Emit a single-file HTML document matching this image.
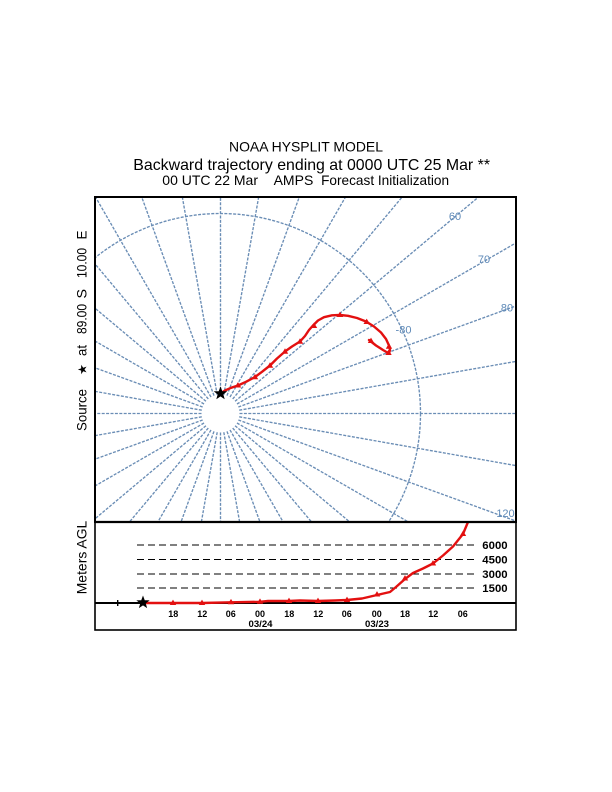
<!DOCTYPE html>
<html>
<head>
<meta charset="utf-8">
<style>
  html,body{margin:0;padding:0;background:#ffffff;width:612px;height:792px;overflow:hidden;}
  svg{display:block;position:absolute;left:0;top:0;}
  text{font-family:"Liberation Sans", Arial, Helvetica, sans-serif;}
</style>
</head>
<body>
<svg width="612" height="792" viewBox="0 0 612 792" xmlns="http://www.w3.org/2000/svg">
  <defs>
    <clipPath id="mapclip"><rect x="95" y="197" width="421" height="325"/></clipPath>
    <clipPath id="vclip"><rect x="95" y="522" width="421" height="108"/></clipPath>
  </defs>
  <rect x="0" y="0" width="612" height="792" fill="#ffffff"/>

  <!-- Titles -->
  <text x="229" y="151.5" font-size="14" textLength="154" lengthAdjust="spacingAndGlyphs" fill="#000">NOAA HYSPLIT MODEL</text>
  <text x="133.3" y="170" font-size="16" textLength="356.7" lengthAdjust="spacingAndGlyphs" fill="#000">Backward trajectory ending at 0000 UTC 25 Mar **</text>
  <text x="162.3" y="185" font-size="14" textLength="95.7" lengthAdjust="spacingAndGlyphs" fill="#000">00 UTC 22 Mar</text>
  <text x="273.6" y="185" font-size="14" textLength="39.7" lengthAdjust="spacingAndGlyphs" fill="#000">AMPS</text>
  <text x="321.1" y="185" font-size="14" textLength="128" lengthAdjust="spacingAndGlyphs" fill="#000">Forecast Initialization</text>

  <!-- Map grid -->
  <g clip-path="url(#mapclip)" stroke="#6a8db5" stroke-width="1.35" stroke-dasharray="3 1.4" fill="none">
    <g transform="translate(220.5,413.5)">
      <line x1="0" y1="-19" x2="0" y2="-217" transform="rotate(0)"/>
      <line x1="0" y1="-19" x2="0" y2="-220.5" transform="rotate(10)"/>
      <line x1="0" y1="-19" x2="0" y2="-231" transform="rotate(20)"/>
      <line x1="0" y1="-19" x2="0" y2="-250.5" transform="rotate(30)"/>
      <line x1="0" y1="-19" x2="0" y2="-283" transform="rotate(40)"/>
      <line x1="0" y1="-19" x2="0" y2="-337" transform="rotate(50)"/>
      <line x1="0" y1="-19" x2="0" y2="-341.5" transform="rotate(60)"/>
      <line x1="0" y1="-19" x2="0" y2="-315" transform="rotate(70)"/>
      <line x1="0" y1="-19" x2="0" y2="-300.5" transform="rotate(80)"/>
      <line x1="0" y1="-19" x2="0" y2="-296" transform="rotate(90)"/>
      <line x1="0" y1="-19" x2="0" y2="-300.5" transform="rotate(100)"/>
      <line x1="0" y1="-19" x2="0" y2="-315" transform="rotate(110)"/>
      <line x1="0" y1="-19" x2="0" y2="-217.5" transform="rotate(120)"/>
      <line x1="0" y1="-19" x2="0" y2="-169" transform="rotate(130)"/>
      <line x1="0" y1="-19" x2="0" y2="-142" transform="rotate(140)"/>
      <line x1="0" y1="-19" x2="0" y2="-125.5" transform="rotate(150)"/>
      <line x1="0" y1="-19" x2="0" y2="-115.8" transform="rotate(160)"/>
      <line x1="0" y1="-19" x2="0" y2="-110.4" transform="rotate(170)"/>
      <line x1="0" y1="-19" x2="0" y2="-108.7" transform="rotate(180)"/>
      <line x1="0" y1="-19" x2="0" y2="-110.4" transform="rotate(190)"/>
      <line x1="0" y1="-19" x2="0" y2="-115.8" transform="rotate(200)"/>
      <line x1="0" y1="-19" x2="0" y2="-125.5" transform="rotate(210)"/>
      <line x1="0" y1="-19" x2="0" y2="-142" transform="rotate(220)"/>
      <line x1="0" y1="-19" x2="0" y2="-164" transform="rotate(230)"/>
      <line x1="0" y1="-19" x2="0" y2="-145" transform="rotate(240)"/>
      <line x1="0" y1="-19" x2="0" y2="-133.8" transform="rotate(250)"/>
      <line x1="0" y1="-19" x2="0" y2="-127.6" transform="rotate(260)"/>
      <line x1="0" y1="-19" x2="0" y2="-125.7" transform="rotate(270)"/>
      <line x1="0" y1="-19" x2="0" y2="-127.6" transform="rotate(280)"/>
      <line x1="0" y1="-19" x2="0" y2="-133.8" transform="rotate(290)"/>
      <line x1="0" y1="-19" x2="0" y2="-145" transform="rotate(300)"/>
      <line x1="0" y1="-19" x2="0" y2="-164" transform="rotate(310)"/>
      <line x1="0" y1="-19" x2="0" y2="-195.5" transform="rotate(320)"/>
      <line x1="0" y1="-19" x2="0" y2="-250.5" transform="rotate(330)"/>
      <line x1="0" y1="-19" x2="0" y2="-231" transform="rotate(340)"/>
      <line x1="0" y1="-19" x2="0" y2="-220.5" transform="rotate(350)"/>
      <circle cx="0" cy="0" r="200"/>
    </g>
  </g>

  <!-- Map labels -->
  <g font-size="11" fill="#5f8ab8" text-anchor="middle">
    <text x="455" y="220">60</text>
    <text x="484" y="263">70</text>
    <text x="507" y="311.5">80</text>
    <text x="505.5" y="517">120</text>
    <text x="403.5" y="333.5">-80</text>
  </g>

  <!-- Trajectory (map) -->
  <g clip-path="url(#mapclip)">
    <polyline fill="none" stroke="#e31010" stroke-width="2.4" stroke-linejoin="round" stroke-linecap="round"
      points="220.5,393.5 225,390.5 231,387.8 238,385.5 246,381.8 255,377 262,371.8 270,365.5 277,358.5 285,351.5 292,346.5 300,341.5 305,336 309,330 313,325.5 318,320.5 324,317.2 332,315.3 340,315 348,315.8 357,318 366,321.5 374,326.5 381,332.5 386,339 389,345.5 390,350 389,353.5 383,350 376,345.5 369,340"/>
    <g fill="#e31010">
      <polygon transform="translate(238,385.5)" points="0,-3.4 3.2,2 -3.2,2"/>
      <polygon transform="translate(255,377.3)" points="0,-3.4 3.2,2 -3.2,2"/>
      <polygon transform="translate(270,365.7)" points="0,-3.4 3.2,2 -3.2,2"/>
      <polygon transform="translate(285,351.7)" points="0,-3.4 3.2,2 -3.2,2"/>
      <polygon transform="translate(300,341.7)" points="0,-3.4 3.2,2 -3.2,2"/>
      <polygon transform="translate(314,326)" points="0,-3.4 3.2,2 -3.2,2"/>
      <polygon transform="translate(340,315)" points="0,-3.4 3.2,2 -3.2,2"/>
      <polygon transform="translate(366.7,322)" points="0,-3.4 3.2,2 -3.2,2"/>
      <polygon transform="translate(389,346.7)" points="0,-3.4 3.2,2 -3.2,2"/>
      <polygon transform="translate(388.5,353)" points="0,-3.4 3.2,2 -3.2,2"/>
      <polygon transform="translate(371,341)" points="0,-3.4 3.2,2 -3.2,2"/>
    </g>
    <polygon transform="translate(220.5,393.5) scale(1.05)" fill="#000" stroke="#000" stroke-width="0.9"
      points="0,-5.5 1.352,-1.861 5.231,-1.7 2.187,0.711 3.233,4.45 0,2.3 -3.233,4.45 -2.187,0.711 -5.231,-1.7 -1.352,-1.861"/>
  </g>

  <!-- Left labels -->
  <g font-size="14" fill="#000">
    <text transform="translate(86.7,431) rotate(-90)" x="0" y="0" textLength="42" lengthAdjust="spacingAndGlyphs">Source</text>
    <text transform="translate(86.7,375) rotate(-90)" x="0" y="0" font-family="DejaVu Sans, sans-serif" font-size="12" textLength="11" lengthAdjust="spacingAndGlyphs">★</text>
    <text transform="translate(86.7,356) rotate(-90)" x="0" y="0" textLength="11" lengthAdjust="spacingAndGlyphs">at</text>
    <text transform="translate(86.7,334) rotate(-90)" x="0" y="0" font-size="13.5" textLength="30" lengthAdjust="spacingAndGlyphs">89.00</text>
    <text transform="translate(86.7,298.5) rotate(-90)" x="0" y="0" textLength="9.5" lengthAdjust="spacingAndGlyphs">S</text>
    <text transform="translate(86.7,278) rotate(-90)" x="0" y="0" font-size="13.5" textLength="30" lengthAdjust="spacingAndGlyphs">10.00</text>
    <text transform="translate(86.7,239.5) rotate(-90)" x="0" y="0" textLength="9" lengthAdjust="spacingAndGlyphs">E</text>
    <text transform="translate(86.7,594.3) rotate(-90)" x="0" y="0" textLength="73.6" lengthAdjust="spacingAndGlyphs">Meters AGL</text>
  </g>

  <!-- Vertical panel dashed reference lines -->
  <g stroke="#000" stroke-width="1" stroke-dasharray="7 4">
    <line x1="137" y1="545" x2="475" y2="545"/>
    <line x1="137" y1="559.5" x2="475" y2="559.5"/>
    <line x1="137" y1="574" x2="475" y2="574"/>
    <line x1="137" y1="588" x2="475" y2="588"/>
  </g>
  <g font-size="11" fill="#000" font-weight="bold">
    <text x="482.3" y="549" textLength="25.3" lengthAdjust="spacingAndGlyphs">6000</text>
    <text x="482.3" y="563.5" textLength="25.3" lengthAdjust="spacingAndGlyphs">4500</text>
    <text x="482.3" y="578" textLength="25.3" lengthAdjust="spacingAndGlyphs">3000</text>
    <text x="482.3" y="592" textLength="25.3" lengthAdjust="spacingAndGlyphs">1500</text>
  </g>

  <!-- Ground line -->
  <line x1="95" y1="603" x2="516" y2="603" stroke="#000" stroke-width="2"/>

  <!-- Height curve -->
  <g clip-path="url(#vclip)">
    <polyline fill="none" stroke="#e31010" stroke-width="2.4" stroke-linejoin="round"
      points="143,603 173,603 202,603 231,602.3 260,601.8 268,601 289,601 300,600.5 318,601 335,600.5 347,600 362,598.5 377,595 390,592 396,587 405,579 413,573 423,568.5 433,563.5 443,555.5 453,546.5 463,534 468,522 470,517"/>
    <g fill="#e31010">
      <polygon transform="translate(173,603)" points="0,-3.4 3.2,2 -3.2,2"/>
      <polygon transform="translate(202,603)" points="0,-3.4 3.2,2 -3.2,2"/>
      <polygon transform="translate(231,602.3)" points="0,-3.4 3.2,2 -3.2,2"/>
      <polygon transform="translate(260,601.8)" points="0,-3.4 3.2,2 -3.2,2"/>
      <polygon transform="translate(289,601)" points="0,-3.4 3.2,2 -3.2,2"/>
      <polygon transform="translate(318,601)" points="0,-3.4 3.2,2 -3.2,2"/>
      <polygon transform="translate(347,600)" points="0,-3.4 3.2,2 -3.2,2"/>
      <polygon transform="translate(377,594.5)" points="0,-3.4 3.2,2 -3.2,2"/>
      <polygon transform="translate(405,578.5)" points="0,-3.4 3.2,2 -3.2,2"/>
      <polygon transform="translate(433,563.5)" points="0,-3.4 3.2,2 -3.2,2"/>
      <polygon transform="translate(463,534)" points="0,-3.4 3.2,2 -3.2,2"/>
    </g>
  </g>

  <!-- plus marker and star on ground line -->
  <g stroke="#000" stroke-width="1.4">
    <line x1="114.7" y1="603" x2="120.7" y2="603"/>
    <line x1="117.7" y1="600" x2="117.7" y2="606"/>
  </g>
  <polygon transform="translate(143,602.5) scale(1.1)" fill="#000" stroke="#000" stroke-width="0.6"
    points="0,-5.5 1.352,-1.861 5.231,-1.7 2.187,0.711 3.233,4.45 0,2.3 -3.233,4.45 -2.187,0.711 -5.231,-1.7 -1.352,-1.861"/>

  <!-- Time labels -->
  <g font-size="9" fill="#000" text-anchor="middle" font-weight="bold">
    <text x="173.3" y="617">18</text>
    <text x="202.3" y="617">12</text>
    <text x="230.7" y="617">06</text>
    <text x="260" y="617">00</text>
    <text x="289.3" y="617">18</text>
    <text x="318.3" y="617">12</text>
    <text x="346.7" y="617">06</text>
    <text x="376.7" y="617">00</text>
    <text x="405" y="617">18</text>
    <text x="433.3" y="617">12</text>
    <text x="462.7" y="617">06</text>
    <text x="260.5" y="627" textLength="24" lengthAdjust="spacingAndGlyphs">03/24</text>
    <text x="377" y="627" textLength="24" lengthAdjust="spacingAndGlyphs">03/23</text>
  </g>

  <!-- Frames -->
  <rect x="95" y="197" width="421" height="325" fill="none" stroke="#000" stroke-width="2"/>
  <rect x="95" y="522" width="421" height="108" fill="none" stroke="#000" stroke-width="1.6"/>
  <line x1="95" y1="522" x2="516" y2="522" stroke="#000" stroke-width="2.2"/>
</svg>
</body>
</html>
